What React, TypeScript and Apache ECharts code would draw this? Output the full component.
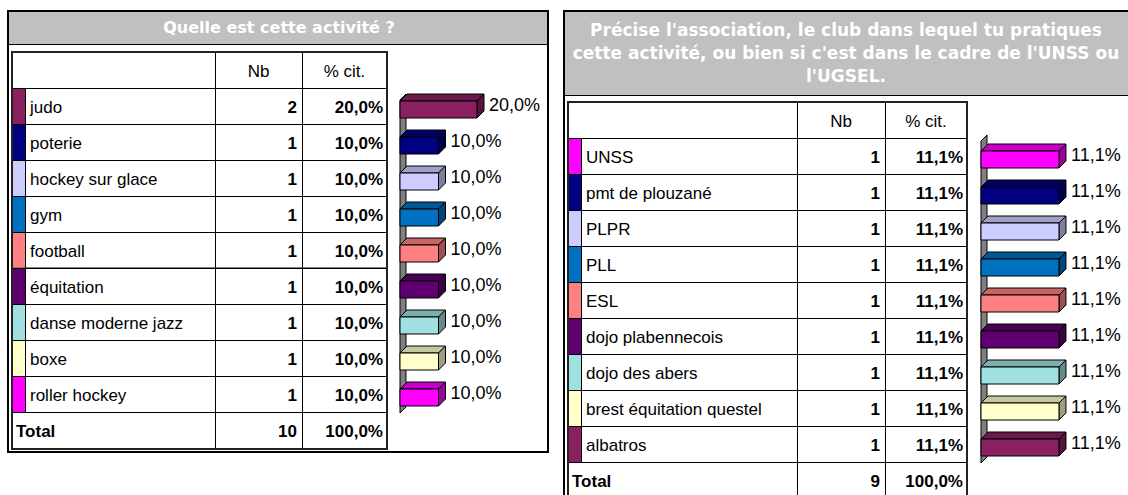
import React, { useEffect, useRef } from "react";
import * as echarts from "echarts";

const leftTitle = "Quelle est cette activité ?";
const leftCategories = [
  "judo",
  "poterie",
  "hockey sur glace",
  "gym",
  "football",
  "équitation",
  "danse moderne jazz",
  "boxe",
  "roller hockey",
];
const leftCounts = [2, 1, 1, 1, 1, 1, 1, 1, 1];
const leftPercents = [20.0, 10.0, 10.0, 10.0, 10.0, 10.0, 10.0, 10.0, 10.0];
const leftColors = ["#8B2060", "#000080", "#CCCCFF", "#0070C0", "#FF8080", "#600070", "#A0E0E0", "#FFFFCC", "#FF00FF"];
const leftTotalCount = 10;
const leftTotalPercent = 100.0;

const rightTitleLines = [
  "Précise l'association, le club dans lequel tu pratiques",
  "cette activité, ou bien si c'est dans le cadre de l'UNSS ou",
  "l'UGSEL.",
];
const rightCategories = [
  "UNSS",
  "pmt de plouzané",
  "PLPR",
  "PLL",
  "ESL",
  "dojo plabennecois",
  "dojo des abers",
  "brest équitation questel",
  "albatros",
];
const rightCounts = [1, 1, 1, 1, 1, 1, 1, 1, 1];
const rightPercents = [11.1, 11.1, 11.1, 11.1, 11.1, 11.1, 11.1, 11.1, 11.1];
const rightColors = ["#FF00FF", "#000080", "#CCCCFF", "#0070C0", "#FF8080", "#600070", "#A0E0E0", "#FFFFCC", "#8B2060"];
const rightTotalCount = 9;
const rightTotalPercent = 100.0;

const headerLabels = ["Nb", "% cit."];
const totalLabel = "Total";

const FF = '"Liberation Sans", Arial, Helvetica, sans-serif';
const TF = '"DejaVu Sans", "Liberation Sans", Arial, sans-serif';

function fmtPct(v: number) {
  return v.toFixed(1).replace(".", ",") + "%";
}

function shade(hex: string, f: number) {
  const n = parseInt(hex.slice(1), 16);
  const r = Math.round(((n >> 16) & 255) * f);
  const g = Math.round(((n >> 8) & 255) * f);
  const b = Math.round((n & 255) * f);
  return `rgb(${r},${g},${b})`;
}

function txt(text: string, x: number, y: number, align: string, font: string, fill = "#000", extra: any = {}) {
  return {
    type: "text",
    silent: true,
    style: {
      text,
      x,
      y,
      align,
      textAlign: align,
      verticalAlign: "middle",
      textVerticalAlign: "middle",
      font,
      fill,
      ...extra,
    },
  };
}

function buildTable(cfg: any) {
  const { x0, sw, cNb, cPct, x1, top, rowH, totalH, cats, counts, pcts, colors, totalCount, totalPct, grayRow } = cfg;
  const els: any[] = [];
  const n = cats.length;
  const bodyTop = top + rowH;
  const totalTop = bodyTop + n * rowH;
  const bottom = totalTop + totalH;
  const reg = `17px ${FF}`;
  const bold = `bold 17px ${FF}`;
  cats.forEach((c: string, i: number) => {
    const y = bodyTop + i * rowH;
    els.push({ type: "rect", shape: { x: x0, y, width: sw, height: rowH }, style: { fill: colors[i] } });
  });
  const hl = (y: number, stroke = "#000") =>
    els.push({ type: "line", shape: { x1: x0, y1: y + 0.5, x2: x1, y2: y + 0.5 }, style: { stroke, lineWidth: 1 } });
  const vl = (x: number, ya: number, yb: number) =>
    els.push({ type: "line", shape: { x1: x + 0.5, y1: ya, x2: x + 0.5, y2: yb }, style: { stroke: "#000", lineWidth: 1 } });
  if (grayRow !== undefined) hl(bodyTop + grayRow * rowH - 1, "#808080");
  for (let k = 0; k <= n; k++) hl(bodyTop + k * rowH);
  vl(x0 + sw, bodyTop, totalTop);
  vl(cNb, top, bottom);
  vl(cPct, top, bottom);
  els.push({
    type: "rect",
    shape: { x: x0, y: top, width: x1 - x0, height: bottom - top },
    style: { fill: "none", stroke: "#222", lineWidth: 2 },
  });
  els.push(txt(headerLabels[0], (cNb + cPct) / 2, top + rowH / 2 + 1, "center", reg));
  els.push(txt(headerLabels[1], (cPct + x1) / 2, top + rowH / 2 + 1, "center", reg));
  cats.forEach((c: string, i: number) => {
    const cy = bodyTop + i * rowH + rowH / 2 + 1;
    els.push(txt(c, x0 + sw + 5, cy, "left", reg));
    els.push(txt(String(counts[i]), cPct - 5, cy, "right", bold));
    els.push(txt(fmtPct(pcts[i]), x1 - 4, cy, "right", bold));
  });
  const ty = totalTop + totalH / 2 + 1;
  els.push(txt(totalLabel, x0 + 4, ty, "left", bold));
  els.push(txt(String(totalCount), cPct - 5, ty, "right", bold));
  els.push(txt(fmtPct(totalPct), x1 - 4, ty, "right", bold));
  return els;
}

function make3DSeries(axisIndex: number, values: number[], colors: string[], wallTop: number) {
  return {
    type: "custom",
    xAxisIndex: axisIndex,
    yAxisIndex: axisIndex,
    data: values.map((v, i) => [v, i]),
    encode: { x: 0, y: 1 },
    renderItem: (params: any, api: any) => {
      const v = api.value(0);
      const ci = api.value(1);
      const p0 = api.coord([0, ci]);
      const p1 = api.coord([v, ci]);
      const cs = params.coordSys;
      const bh = 17;
      const d = 7;
      const cy = p0[1] + 3.5;
      const t = cy - bh / 2;
      const b = cy + bh / 2;
      const xl = p0[0];
      const xr = p1[0];
      const col = colors[params.dataIndex];
      const children: any[] = [];
      if (params.dataIndex === 0) {
        const ww = 6;
        const wt = cs.y + wallTop;
        const wb = cs.y + cs.height + 1;
        children.push({
          type: "polygon",
          shape: { points: [[xl, wt + ww], [xl + ww, wt], [xl + ww, wb - ww], [xl, wb]] },
          style: { fill: "#808080", stroke: "#000", lineWidth: 1 },
        });
      }
      children.push({
        type: "polygon",
        shape: { points: [[xl, t], [xl + d, t - d], [xr + d, t - d], [xr, t]] },
        style: { fill: shade(col, 0.78), stroke: "#000", lineWidth: 1 },
      });
      children.push({
        type: "polygon",
        shape: { points: [[xr, t], [xr + d, t - d], [xr + d, b - d], [xr, b]] },
        style: { fill: shade(col, 0.62), stroke: "#000", lineWidth: 1 },
      });
      children.push({
        type: "rect",
        shape: { x: xl, y: t, width: xr - xl, height: bh },
        style: { fill: col, stroke: "#000", lineWidth: 1 },
      });
      children.push({
        type: "text",
        style: {
          text: fmtPct(v),
          x: xr + d + 5,
          y: cy - d / 2 - 1,
          align: "left",
          textAlign: "left",
          verticalAlign: "middle",
          textVerticalAlign: "middle",
          font: `18px ${FF}`,
          fill: "#000",
        },
      });
      return { type: "group", children };
    },
  };
}

export default function App() {
  const ref = useRef<HTMLDivElement>(null);
  useEffect(() => {
    if (!ref.current) return;
    const chart = echarts.init(ref.current, undefined, { renderer: "svg" });

    const graphics: any[] = [];
    // left panel
    graphics.push({ type: "rect", shape: { x: 9, y: 12, width: 539, height: 32 }, style: { fill: "#C0C0C0" } });
    graphics.push({ type: "line", shape: { x1: 8, y1: 44.5, x2: 548, y2: 44.5 }, style: { stroke: "#000", lineWidth: 1 } });
    graphics.push({
      type: "rect",
      shape: { x: 8, y: 11, width: 540, height: 441 },
      style: { fill: "none", stroke: "#000", lineWidth: 2 },
    });
    graphics.push(txt(leftTitle, 279, 27, "center", `bold 16px ${TF}`, "#FFFFFF"));
    graphics.push(
      ...buildTable({
        x0: 12, sw: 13, cNb: 215, cPct: 302, x1: 387, top: 52, rowH: 36, totalH: 37,
        cats: leftCategories, counts: leftCounts, pcts: leftPercents, colors: leftColors,
        totalCount: leftTotalCount, totalPct: leftTotalPercent, grayRow: 5,
      })
    );
    // right panel
    graphics.push({ type: "rect", shape: { x: 565, y: 12, width: 570, height: 83 }, style: { fill: "#C0C0C0" } });
    graphics.push({ type: "line", shape: { x1: 564, y1: 95.5, x2: 1135, y2: 95.5 }, style: { stroke: "#000", lineWidth: 1 } });
    graphics.push({
      type: "rect",
      shape: { x: 564, y: 11, width: 580, height: 520 },
      style: { fill: "none", stroke: "#000", lineWidth: 2 },
    });
    graphics.push(
      txt(rightTitleLines.join("\n"), 846, 53, "center", `bold 17px ${TF}`, "#FFFFFF", { lineHeight: 23 })
    );
    graphics.push(
      ...buildTable({
        x0: 568, sw: 13, cNb: 797, cPct: 885, x1: 967, top: 102, rowH: 36, totalH: 37,
        cats: rightCategories, counts: rightCounts, pcts: rightPercents, colors: rightColors,
        totalCount: rightTotalCount, totalPct: rightTotalPercent,
      })
    );

    chart.setOption({
      animation: false,
      backgroundColor: "#FFFFFF",
      grid: [
        { left: 400, top: 88, width: 77, height: 324 },
        { left: 981, top: 138, width: 140.5, height: 324 },
      ],
      xAxis: [
        { gridIndex: 0, type: "value", min: 0, max: 20, show: false },
        { gridIndex: 1, type: "value", min: 0, max: 20, show: false },
      ],
      yAxis: [
        { gridIndex: 0, type: "category", data: leftCategories, inverse: true, show: false },
        { gridIndex: 1, type: "category", data: rightCategories, inverse: true, show: false },
      ],
      graphic: { elements: graphics },
      series: [
        make3DSeries(0, leftPercents, leftColors, 6),
        make3DSeries(1, rightPercents, rightColors, -3),
      ],
    });
    return () => chart.dispose();
  }, []);
  return (
    <div
      ref={ref}
      style={{ position: "absolute", left: 0, top: 0, width: 1128, height: 495, overflow: "hidden" }}
    />
  );
}
